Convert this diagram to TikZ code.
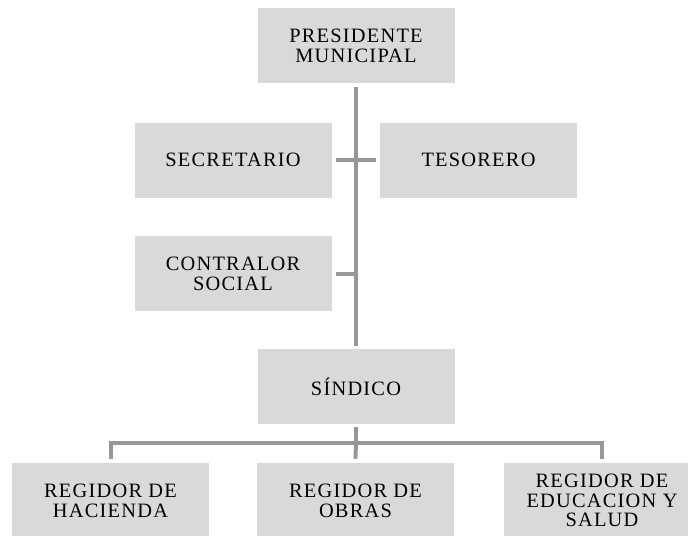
\documentclass[tikz,border=0pt]{standalone}
\usepackage{fontspec}
\setmainfont{Liberation Serif}[LetterSpace=6]
\begin{document}
\begin{tikzpicture}[x=0.75pt,y=-0.75pt,
  box/.style={fill=boxgray,draw=white,line width=0.6pt,minimum width=148.5pt,minimum height=57pt,inner sep=0pt,align=center,font=\fontsize{15.3}{14.8}\selectfont},
  conn/.style={draw=linegray,line width=3pt,line cap=rect}]
\definecolor{boxgray}{HTML}{D9D9D9}
\definecolor{linegray}{HTML}{979797}
\clip (0,0) rectangle (688,535);
\node[box] (pres) at (356,45.5) {PRESIDENTE\\MUNICIPAL};
\node[box] (sec) at (233,160) {SECRETARIO};
\node[box] (tes) at (478.5,160) {TESORERO};
\node[box] (con) at (233,273.5) {CONTRALOR\\SOCIAL};
\node[box] (sind) at (356,386.5) {SÍNDICO};
\node[box] (hac) at (110.5,500.5) {REGIDOR DE\\HACIENDA};
\node[box] (obr) at (355.5,500.5) {REGIDOR DE\\OBRAS};
\node[box] (edu) at (602,500.5) {REGIDOR DE\\EDUCACION Y\\SALUD};
\coordinate (bar) at (356,443);
\draw[conn] ([yshift=-4pt]pres.south) -- ([yshift=3pt]sind.north);
\draw[conn] ([xshift=4pt]sec.east) -- ([xshift=-4pt]tes.west);
\draw[conn] ([xshift=4pt]con.east) -- (con.east -| pres.south);
\draw[conn] ([yshift=-3pt]sind.south) -- (bar);
\draw[conn] ([yshift=4pt]hac.north) |- (bar) -| ([yshift=4pt]edu.north);
\draw[conn] (bar) -- ([yshift=4pt]obr.north);
\end{tikzpicture}
\end{document}
